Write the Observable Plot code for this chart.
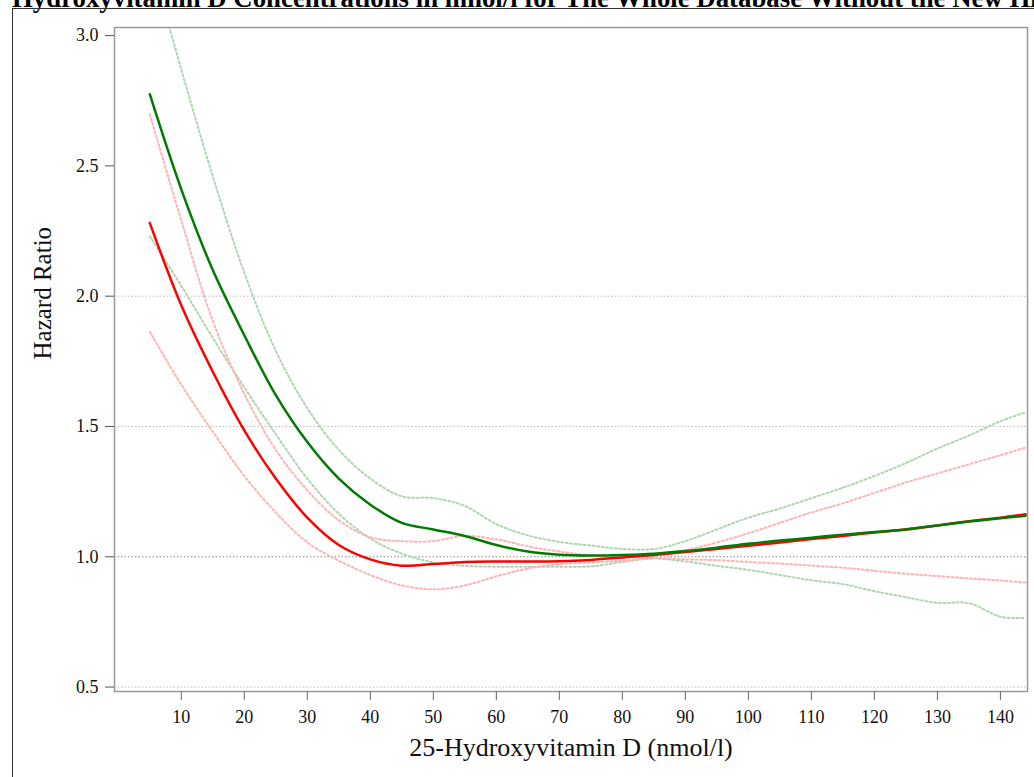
<!DOCTYPE html>
<html>
<head>
<meta charset="utf-8">
<script src="https://cdn.jsdelivr.net/npm/d3@7"></script>
<script src="https://cdn.jsdelivr.net/npm/@observablehq/plot@0.6"></script>
<style>
  html, body { margin: 0; padding: 0; background: #fff; }
  #wrap { position: relative; width: 1034px; height: 777px; overflow: hidden; }
  #title {
    position: absolute; left: 12px; top: -16px; white-space: nowrap;
    font-family: "Liberation Serif", "Times New Roman", serif; font-weight: bold;
    font-size: 26.8px; line-height: 28px; color: #000;
  }
  #border {
    position: absolute; left: 12px; top: 8px; right: 0; bottom: 0;
    border-left: 1px solid #333; border-top: 1px solid #333;
  }
  #chart { position: absolute; left: 0; top: 0; }
  #chart svg text { font-family: "Liberation Serif", "Times New Roman", serif; }
</style>
</head>
<body>
<div id="wrap">
  <div id="title">Hydroxyvitamin D Concentrations in nmol/l for The Whole Database Without the New Hip Fractures</div>
  <div id="border"></div>
  <div id="chart"></div>
</div>
<script>
// 25(OH)D concentration grid (nmol/l)
const vitD = [5, 10, 15, 20, 25, 30, 35, 40, 45, 50, 55, 60, 65, 70, 75, 80, 85, 90, 95, 100, 105, 110, 115, 120, 125, 130, 135, 140, 144];

// Green model: hazard ratio and 95% CI
const greenHR    = [2.775, 2.41, 2.10, 1.85, 1.62, 1.44, 1.30, 1.20, 1.13, 1.105, 1.08, 1.045, 1.02, 1.008, 1.005, 1.007, 1.012, 1.022, 1.035, 1.05, 1.062, 1.073, 1.085, 1.095, 1.105, 1.12, 1.135, 1.148, 1.157];
const greenUpper = [3.30, 2.87, 2.46, 2.09, 1.79, 1.57, 1.41, 1.30, 1.232, 1.225, 1.195, 1.125, 1.082, 1.057, 1.043, 1.03, 1.03, 1.06, 1.105, 1.15, 1.185, 1.225, 1.265, 1.31, 1.36, 1.415, 1.465, 1.52, 1.554];
const greenLower = [2.23, 2.04, 1.84, 1.65, 1.47, 1.30, 1.165, 1.07, 1.012, 0.978, 0.965, 0.962, 0.962, 0.962, 0.963, 0.98, 0.993, 0.982, 0.965, 0.95, 0.93, 0.91, 0.895, 0.868, 0.845, 0.823, 0.822, 0.77, 0.765];

// Red model: hazard ratio and 95% CI
const redHR    = [2.281, 1.965, 1.71, 1.485, 1.30, 1.15, 1.045, 0.99, 0.966, 0.972, 0.98, 0.982, 0.982, 0.983, 0.988, 0.997, 1.007, 1.018, 1.03, 1.042, 1.055, 1.068, 1.08, 1.093, 1.105, 1.12, 1.136, 1.15, 1.163];
const redUpper = [2.698, 2.29, 1.905, 1.625, 1.41, 1.255, 1.14, 1.075, 1.06, 1.06, 1.08, 1.067, 1.04, 1.02, 1.005, 1.0, 1.005, 1.025, 1.055, 1.09, 1.13, 1.17, 1.205, 1.245, 1.285, 1.32, 1.355, 1.39, 1.419];
const redLower = [1.864, 1.66, 1.48, 1.31, 1.17, 1.055, 0.985, 0.93, 0.89, 0.875, 0.89, 0.925, 0.955, 0.972, 0.978, 0.985, 0.995, 0.99, 0.987, 0.98, 0.974, 0.966, 0.958, 0.946, 0.935, 0.926, 0.917, 0.909, 0.901];

const xTicks = [10, 20, 30, 40, 50, 60, 70, 80, 90, 100, 110, 120, 130, 140];
const yTicks = [0.5, 1.0, 1.5, 2.0, 2.5, 3.0];
const gridLight = [0.5, 1.5, 2.0];
const gridRef = [1.0];
const xLabel = "25-Hydroxyvitamin D (nmol/l)";
const yLabel = "Hazard Ratio";

const toRows = (ys) => vitD.map((x, i) => ({x, y: ys[i]}));
const serif = "'Liberation Serif', 'Times New Roman', serif";

const chart = Plot.plot({
  width: 1034,
  height: 777,
  marginLeft: 114,
  marginTop: 27,
  marginRight: 7,
  marginBottom: 86,
  style: {fontFamily: serif, fontSize: "18px", background: "transparent", color: "#111"},
  x: {domain: [-0.6, 144.3]},
  y: {domain: [0.483, 3.031]},
  marks: [
    Plot.gridY(gridLight, {stroke: "#bbb", strokeOpacity: 1, strokeDasharray: "1.5,2"}),
    Plot.gridY(gridRef, {stroke: "#888", strokeOpacity: 1, strokeDasharray: "1.5,2"}),
    Plot.line(toRows(greenUpper), {x: "x", y: "y", stroke: "#b0d6b0", strokeWidth: 2, strokeDasharray: "2,2.5", curve: "catmull-rom", clip: true}),
    Plot.line(toRows(greenLower), {x: "x", y: "y", stroke: "#b0d6b0", strokeWidth: 2, strokeDasharray: "2,2.5", curve: "catmull-rom", clip: true}),
    Plot.line(toRows(redUpper), {x: "x", y: "y", stroke: "#ffb3b3", strokeWidth: 2, strokeDasharray: "2,2.5", curve: "catmull-rom", clip: true}),
    Plot.line(toRows(redLower), {x: "x", y: "y", stroke: "#ffb3b3", strokeWidth: 2, strokeDasharray: "2,2.5", curve: "catmull-rom", clip: true}),
    Plot.line(toRows(redHR), {x: "x", y: "y", stroke: "#ff0000", strokeWidth: 2.5, curve: "catmull-rom", clip: true}),
    Plot.line(toRows(greenHR), {x: "x", y: "y", stroke: "#007a00", strokeWidth: 2.5, curve: "catmull-rom", clip: true}),
    Plot.frame({stroke: "#999", strokeWidth: 1.5}),
    Plot.axisX({ticks: xTicks, tickSize: 9, tickPadding: 10, stroke: "#666", fill: "#111", fontSize: 18, label: null, tickFormat: d => String(d)}),
    Plot.axisY({ticks: yTicks, tickSize: 9, tickPadding: 7, stroke: "#555", fill: "#111", fontSize: 18, label: null, tickFormat: d3.format(".1f")}),
    Plot.text([xLabel], {text: d => d, frameAnchor: "bottom", lineAnchor: "bottom", dy: 64, fontSize: 26, fill: "#111"}),
    Plot.text([yLabel], {text: d => d, frameAnchor: "left", lineAnchor: "bottom", rotate: -90, dx: -64, fontSize: 25, fill: "#111"})
  ]
});
document.getElementById("chart").appendChild(chart);
</script>
</body>
</html>
